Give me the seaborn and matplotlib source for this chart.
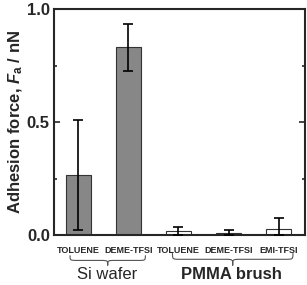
import matplotlib
matplotlib.use("Agg")
import matplotlib.pyplot as plt
import seaborn as sns
import numpy as np
import pandas as pd
from matplotlib.path import Path
from matplotlib.patches import PathPatch
from matplotlib.ticker import MultipleLocator

sns.set_style("ticks")
plt.rcParams['font.family'] = ['Liberation Sans', 'DejaVu Sans']
plt.rcParams['mathtext.fontset'] = 'custom'
plt.rcParams['mathtext.it'] = 'Liberation Sans:italic:bold'
plt.rcParams['mathtext.rm'] = 'Liberation Sans:bold'

# data
categories = ["TOLUENE", "DEME-TFSI", "TOLUENE", "DEME-TFSI", "EMI-TFSI"]
groups = ["Si wafer", "Si wafer", "PMMA brush", "PMMA brush", "PMMA brush"]
values = [0.265, 0.830, 0.018, 0.008, 0.025]
err_low = [0.243, 0.103, 0.018, 0.008, 0.025]
err_high = [0.243, 0.104, 0.016, 0.013, 0.049]
group_names = ["Si wafer", "PMMA brush"]

df = pd.DataFrame({
    "key": [f"{g}|{c}" for g, c in zip(groups, categories)],
    "value": values,
    "group": groups,
})

fig = plt.figure(figsize=(3.07, 2.85), dpi=100)
ax = fig.add_axes([54/307, 1-235/285, 251/307, 226/285])

sns.barplot(data=df, x="key", y="value", hue="group",
            palette={"Si wafer": "#878787", "PMMA brush": "#ffffff"},
            edgecolor="#333333", linewidth=0.8, width=0.5,
            dodge=False, legend=False, ax=ax, zorder=2)

xs = np.arange(len(values))
ax.errorbar(xs, values, yerr=[err_low, err_high], fmt="none",
            ecolor="black", elinewidth=1.2, capsize=3.5, capthick=1.2, zorder=3)

ax.set_xlim(-0.48, 4.52)
ax.set_ylim(0, 1.0)
ax.yaxis.set_major_locator(MultipleLocator(0.5))
ax.yaxis.set_minor_locator(MultipleLocator(0.25))
ax.set_yticks([0.0, 0.5, 1.0])
ax.set_yticklabels(["0.0", "0.5", "1.0"], fontsize=12, fontweight="bold")
ax.tick_params(axis="y", which="both", direction="in", right=True, width=1.2, pad=3)
ax.tick_params(axis="y", which="major", length=4)
ax.tick_params(axis="y", which="minor", length=2.5)
ax.tick_params(axis="x", length=0, pad=8)
ax.set_xticks(xs)
ax.set_xticklabels(categories, fontsize=6.5, fontweight="bold")
ax.set_xlabel("")
ax.set_ylabel("Adhesion force, $F_\\mathrm{a}$ / nN", fontsize=12, fontweight="bold", labelpad=1)
for s in ax.spines.values():
    s.set_linewidth(1.5)
    s.set_visible(True)

# braces
def brace(x0, x1, ytop, ybot):
    xm = (x0 + x1) / 2
    ymid = (ytop + ybot) / 2
    verts = [
        (x0, ytop),
        (x0, ymid), (x0, ymid), (x0 + 0.15, ymid),
        (xm - 0.15, ymid),
        (xm, ymid), (xm, ymid), (xm, ybot),
        (xm, ymid), (xm, ymid), (xm + 0.15, ymid),
        (x1 - 0.15, ymid),
        (x1, ymid), (x1, ymid), (x1, ytop),
    ]
    codes = [Path.MOVETO,
             Path.CURVE4, Path.CURVE4, Path.CURVE4,
             Path.LINETO,
             Path.CURVE4, Path.CURVE4, Path.CURVE4,
             Path.CURVE4, Path.CURVE4, Path.CURVE4,
             Path.LINETO,
             Path.CURVE4, Path.CURVE4, Path.CURVE4]
    tr = ax.get_xaxis_transform()
    p = PathPatch(Path(verts, codes), fill=False, lw=0.8, color="#555555",
                  transform=tr, clip_on=False)
    ax.add_patch(p)

brace(-0.16, 1.34, -0.09, -0.135)
brace(1.88, 4.28, -0.08, -0.135)

tr = ax.get_xaxis_transform()
ax.text(0.58, -0.14, group_names[0], transform=tr, ha="center", va="top",
        fontsize=12)
ax.text(3.06, -0.14, group_names[1], transform=tr, ha="center", va="top",
        fontsize=12, fontweight="bold")

fig.savefig("out.png", dpi=100)
